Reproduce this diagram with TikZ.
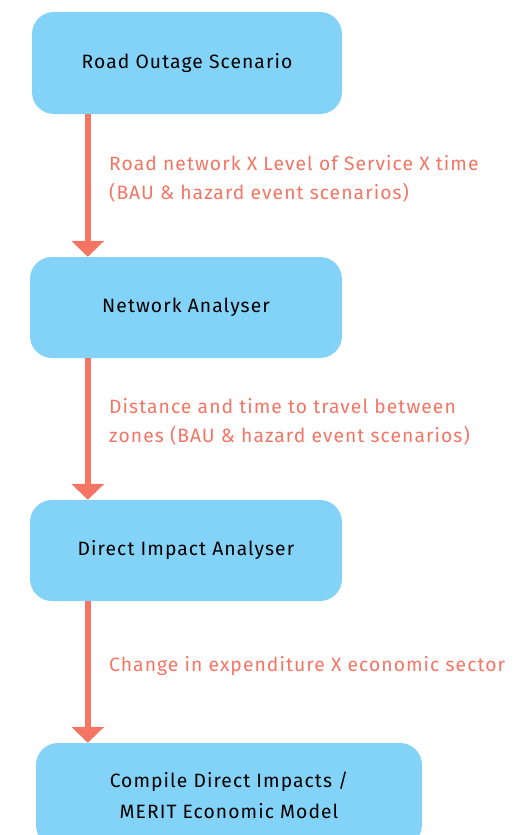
\documentclass[tikz,border=0pt]{standalone}
\usepackage{fontspec}
\setmainfont{Fira Sans}[LetterSpace=5.5]
\usetikzlibrary{arrows.meta}
\definecolor{boxblue}{HTML}{82D3F7}
\definecolor{flowred}{HTML}{F47564}
\tikzset{
    stage/.style={fill=boxblue, rounded corners=22pt, align=center,
        font=\fontsize{19.3}{31}\selectfont, inner sep=0pt},
    flow/.style={draw=flowred, line width=6pt, -{Triangle[width=32pt,length=16pt]}},
    note/.style={anchor=west, align=left, text=flowred, inner sep=0pt,
        font=\fontsize{19.3}{29}\selectfont}
}
\begin{document}
\begin{tikzpicture}[x=1pt, y=-1pt]
\useasboundingbox (0,0) rectangle (513,835);
\clip (0,0) rectangle (513,835);

\node[stage, minimum width=310pt, minimum height=102pt] (b1) at (187,63) {Road Outage Scenario};
\node[stage, minimum width=312pt, minimum height=101pt] (b2) at (186,307.5) {Network Analyser};
\node[stage, minimum width=312pt, minimum height=101pt] (b3) at (186,550.5) {Direct Impact Analyser};
\node[stage, minimum width=386pt, minimum height=104pt] (b4) at (229,795) {Compile Direct Impacts /\\MERIT Economic Model};

\node[note] (l1) at (109,178.5) {Road network X Level of Service X time\\(BAU \& hazard event scenarios)};
\node[note] (l2) at (109,422) {Distance and time to travel between\\zones (BAU \& hazard event scenarios)};
\node[note] (l3) at (109,666) {Change in expenditure X economic sector};

\draw[flow] ([xshift=56pt]b1.south west) -- ([xshift=58pt]b2.north west);
\draw[flow] ([xshift=58pt]b2.south west) -- ([xshift=58pt]b3.north west);
\draw[flow] ([xshift=58pt]b3.south west) -- ([xshift=52pt]b4.north west);

\end{tikzpicture}
\end{document}
